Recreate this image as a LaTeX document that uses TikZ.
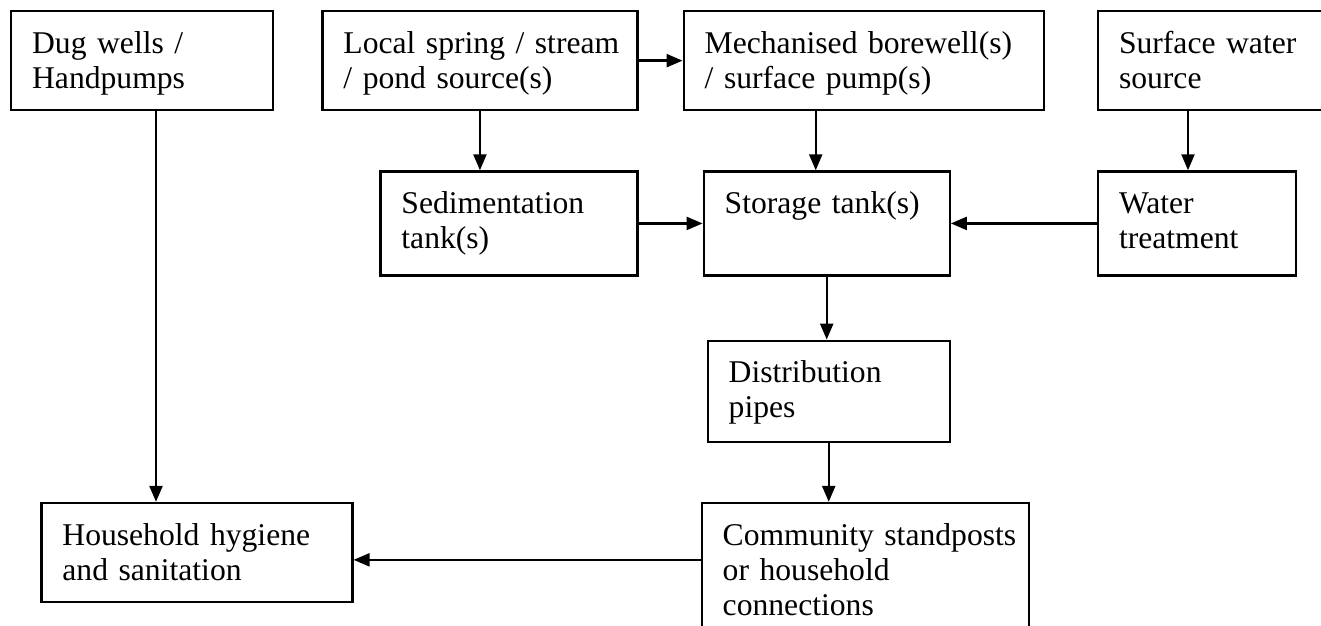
\documentclass[tikz,border=0pt]{standalone}
\usepackage{fontspec}
\setmainfont{Liberation Serif}
\usetikzlibrary{arrows.meta, positioning}

\begin{document}
\begin{tikzpicture}[
    box/.style 2 args={draw, line width=1.3pt, anchor=north west,
        inner xsep=0pt, inner ysep=0pt, text width=#1,
        text height=0.84cm, text depth=#2,
        execute at begin node={\leftskip=0.42cm\hyphenpenalty=10000\relax},
        font=\fontsize{18}{20}\selectfont},
    edge/.style={-{Triangle[length=0.32cm, width=0.26cm]}, line width=1.3pt}
]
\useasboundingbox (0,0) rectangle (26.42,-12.50);
\clip (0,0) rectangle (26.42,-12.50);

% sources
\node[box={5.24cm}{1.14cm}] (dug) at (0.2,-0.2) {Dug wells /\\Handpumps};
\node[box={6.30cm}{1.14cm}, right=0.94cm of dug.north east, anchor=north west] (spring) {Local spring / stream\\/ pond source(s)};
\node[box={7.20cm}{1.14cm}, right=0.88cm of spring.north east, anchor=north west] (pump) {Mechanised borewell(s)\\/ surface pump(s)};
\node[box={5.20cm}{1.14cm}, right=1.04cm of pump.north east, anchor=north west] (surface) {Surface water\\source};

% treatment and storage
\node[box={5.14cm}{1.24cm}, below=1.18cm of spring.south east, anchor=north east] (sedim) {Sedimentation\\tank(s)};
\node[box={4.92cm}{1.24cm}, right=1.28cm of sedim.north east, anchor=north west] (storage) {Storage tank(s)};
\node[box={3.96cm}{1.24cm}, below=1.18cm of surface.south west, anchor=north west] (treat) {Water\\treatment};

% distribution and use
\node[box={4.84cm}{1.18cm}, below=1.26cm of storage.south east, anchor=north east] (distrib) {Distribution\\pipes};
\node[box={6.54cm}{2.36cm}, below=1.18cm of distrib.south west, anchor=north west, xshift=-0.12cm] (standpost) {Community standposts\\or household\\connections};
\node[box={6.22cm}{1.14cm}, left=6.94cm of standpost.north west, anchor=north east] (hygiene) {Household hygiene\\and sanitation};

\coordinate (wellout) at ([xshift=2.92cm]dug.south west);
\coordinate (pumpin) at ([xshift=-0.22cm]storage.north);
\coordinate (treatin) at ([xshift=-0.18cm]treat.north);
\coordinate (standout) at ([yshift=-1.16cm]standpost.north west);

\draw[edge] (wellout) -- (wellout |- hygiene.north);
\draw[edge] (spring) -- (pump);
\draw[edge] (spring.south) -- (spring.south |- sedim.north);
\draw[edge] (pumpin |- pump.south) -- (pumpin);
\draw[edge] (treatin |- surface.south) -- (treatin);
\draw[edge] (sedim) -- (storage);
\draw[edge] (treat) -- (storage);
\draw[edge] (storage.south) -- (storage.south |- distrib.north);
\draw[edge] (distrib.south) -- (distrib.south |- standpost.north);
\draw[edge] (standout) -- (standout -| hygiene.east);
\end{tikzpicture}
\end{document}
